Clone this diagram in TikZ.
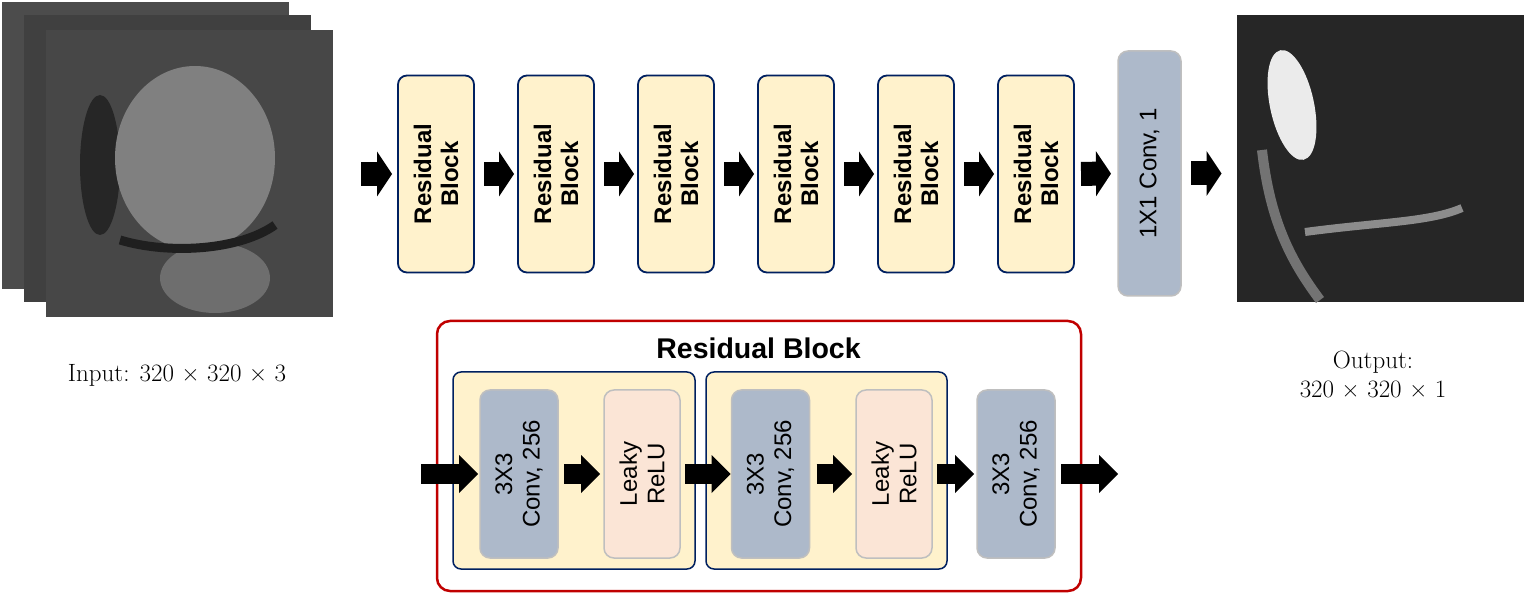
\documentclass[tikz,border=0pt]{standalone}
\usepackage{fontspec}
\newfontfamily\arial{Liberation Sans}
\usetikzlibrary{positioning}
\usetikzlibrary{arrows.meta}

\definecolor{blockfill}{HTML}{FFF2CC}
\definecolor{navyline}{HTML}{002060}
\definecolor{convfill}{HTML}{ADB9CA}
\definecolor{relufill}{HTML}{FBE5D6}
\definecolor{grayline}{HTML}{BFBFBF}
\definecolor{redline}{HTML}{C00000}

\begin{document}
\begin{tikzpicture}[x=1pt,y=-1pt,every node/.style={inner sep=0pt,outer sep=0pt},
    resblock/.style={draw=navyline,line width=1.8pt,fill=blockfill,rounded corners=9pt,rotate=90,minimum width=197pt,minimum height=76pt,align=center,font=\arial\bfseries\fontsize{24}{27}\selectfont},
    convbox/.style={draw=grayline,line width=1.5pt,fill=convfill,rounded corners=10pt,rotate=90,minimum width=168pt,minimum height=78pt,align=center,font=\arial\fontsize{24}{27.4}\selectfont},
    relubox/.style={convbox,fill=relufill,minimum height=76pt},
    stagebox/.style={draw=navyline,line width=1.5pt,fill=blockfill,rounded corners=8pt,minimum height=197pt},
    mri/.style={minimum size=287pt,fill=#1},
    bigarrow/.style={line width=24pt,-{Triangle[length=15pt,width=45pt,line width=0pt]}},
    smallarrow/.style={line width=20pt,-{Triangle[length=19pt,width=38pt,line width=0pt]}}]
    \useasboundingbox (0,0) rectangle (1526,593);

    % input slices
    \node[mri=black!70] (in3) at (145.5,145.5) {};
    \node[mri=black!75] (in2) at (167.5,159) {};
    \node[mri=black!72] (in1) at (189.5,174) {};
    \fill[black!85] (100,165) ellipse (20 and 70);
    \fill[black!50] (195,158) ellipse (80 and 92);
    \fill[black!57] (215,278) ellipse (55 and 35);
    \draw[black!88,line width=9pt] (120,240) .. controls (170,255) and (240,250) .. (275,225);

    % output slice
    \node[mri=black!85] (out) at (1380,159) {};
    \fill[black!8,rotate around={12:(1292,105)}] (1292,105) ellipse (22 and 56);
    \draw[black!45,line width=8pt] (1305,232) .. controls (1380,222) and (1430,222) .. (1462,208);
    \draw[black!55,line width=10pt] (1262,150) .. controls (1270,220) and (1290,260) .. (1320,300);

    \node[font=\fontsize{25}{29}\selectfont] (inlabel) at (177,375) {Input: 320 × 320 × 3};
    \node[align=center,font=\fontsize{25}{29}\selectfont] (outlabel) at (1373,374) {Output:\\320 × 320 × 1};

    % main chain
    \foreach \i in {1,...,6}
        \node[resblock] (rb\i) at ({316+120*\i},174) {Residual\\Block};
    \node[convbox,minimum width=245pt,minimum height=63pt] (conv) at (1149.5,173.5) {1X1 Conv, 1};

    \draw[bigarrow,shorten <=28pt,shorten >=6pt] (in1) -- (rb1);
    \foreach \i [evaluate=\i as \j using int(\i+1)] in {1,...,5}
        \draw[bigarrow,shorten <=10pt,shorten >=4pt] (rb\i) -- (rb\j);
    \draw[bigarrow,shorten <=7pt,shorten >=7pt] (rb6) -- (conv);
    \draw[bigarrow,shorten <=10pt,shorten >=15pt] (conv) -- (conv -| out.west);

    % residual block detail
    \node[draw=redline,line width=2.5pt,rounded corners=13pt,minimum width=644pt,minimum height=270pt] (resbox) at (759,456) {};
    \node[font=\arial\bfseries\fontsize{28.5}{32}\selectfont] (restitle) at (758.5,348) {Residual Block};
    \node[stagebox,minimum width=242pt] (stage1) at (574,470.5) {};
    \node[stagebox,minimum width=241pt] (stage2) at (826.5,470.5) {};

    \node[convbox] (conva) at (519,474) {3X3\\Conv, 256};
    \node[relubox] (relua) at (642,474) {Leaky\\ReLU};
    \node[convbox] (convb) at (770.5,474) {3X3\\Conv, 256};
    \node[relubox] (relub) at (894,474) {Leaky\\ReLU};
    \node[convbox] (convc) at (1016,474) {3X3\\Conv, 256};

    \coordinate (resin) at (421,474);
    \coordinate (resout) at (1118,474);
    \draw[smallarrow,shorten >=2pt] (resin) -- (conva);
    \draw[smallarrow,shorten <=6pt,shorten >=4pt] (conva) -- (relua);
    \draw[smallarrow,shorten <=5pt,shorten >=1pt] (relua) -- (convb);
    \draw[smallarrow,shorten <=7pt,shorten >=4pt] (convb) -- (relub);
    \draw[smallarrow,shorten <=5pt,shorten >=3pt] (relub) -- (convc);
    \draw[smallarrow,shorten <=6pt] (convc) -- (resout);
\end{tikzpicture}
\end{document}
